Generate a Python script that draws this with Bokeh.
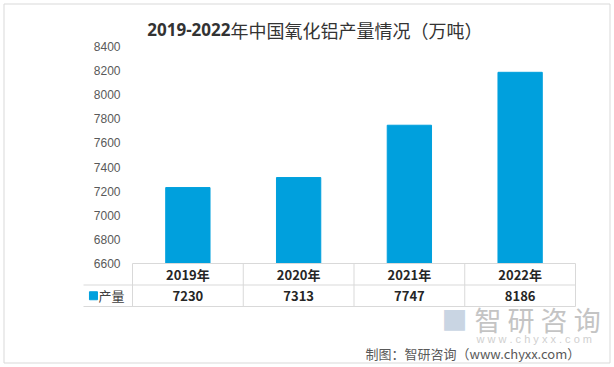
from bokeh.plotting import figure
from bokeh.models import Range1d, FixedTicker, Label
from bokeh.core.properties import value
from bokeh.embed import file_html
from bokeh.resources import INLINE

# ---- data ----
years = ["2019年", "2020年", "2021年", "2022年"]
output = [7230, 7313, 7747, 8186]
series_name = "产量"
y_ticks = [6600, 6800, 7000, 7200, 7400, 7600, 7800, 8000, 8200, 8400]
title_num = "2019-2022"
title_cn = "年中国氧化铝产量情况（万吨）"
source_text = "制图：智研咨询（www.chyxx.com）"

BLUE = "#00A0DD"
GRID = "#D9D9D9"
W, H = 614, 367
COL0 = 132        # left edge of first category column (px)
TOP_TICK = 46     # y pixel of top tick
TBL_BOTTOM = 306  # y pixel of table bottom
ROW_H = 21.5
col_px = 110.75
px_per_unit = 217 / 1800

p = figure(width=W, height=H, output_backend="svg", toolbar_location=None,
           min_border_left=0, min_border_right=0, min_border_top=0, min_border_bottom=0,
           x_range=Range1d(-COL0 / col_px, (W - COL0) / col_px),
           y_range=Range1d(y_ticks[-1] - (H - TOP_TICK) / px_per_unit,
                           y_ticks[-1] + TOP_TICK / px_per_unit))
p.extra_y_ranges = {"tbl": Range1d(-(H - TBL_BOTTOM) / ROW_H, TBL_BOTTOM / ROW_H),
                    "px": Range1d(H, 0)}
p.extra_x_ranges = {"px": Range1d(0, W)}
p.outline_line_color = None
p.xgrid.visible = False
p.ygrid.visible = False
p.xaxis.visible = False

ya = p.yaxis[0]
ya.ticker = FixedTicker(ticks=y_ticks)
ya.fixed_location = 0
ya.axis_line_color = None
ya.major_tick_line_color = None
ya.minor_tick_line_color = None
ya.major_tick_out = 0
ya.major_label_standoff = 12
ya.major_label_text_font = "Liberation Sans"
ya.major_label_text_font_size = "12px"
ya.major_label_text_color = "#595959"

# outer border
p.quad(left=[3.5], right=[609.5], top=[3.5], bottom=[362.5], fill_color=None,
       line_color="#D9D9D9", line_width=1, x_range_name="px", y_range_name="px")

xs = [i + 0.5 for i in range(len(years))]
p.vbar(x=xs, top=output, bottom=y_ticks[0], width=0.4, color=BLUE)

# table grid
n = len(years)
left = -(COL0 - 83) / col_px
p.segment(x0=list(range(n + 1)), x1=list(range(n + 1)), y0=[0] * (n + 1), y1=[2] * (n + 1),
          line_color=GRID, line_width=1, y_range_name="tbl")
p.segment(x0=[0, left, left], x1=[n, n, n], y0=[2, 1, 0], y1=[2, 1, 0],
          line_color=GRID, line_width=1, y_range_name="tbl")

p.text(x=xs, y=[1.5] * n, text=years, y_range_name="tbl",
       text_font=value("Noto Sans CJK SC"), text_font_style="bold", text_font_size="13px",
       text_align="center", text_baseline="middle", text_color="#262626")
p.text(x=xs, y=[0.5] * n, text=[str(v) for v in output], y_range_name="tbl",
       text_font=value("Noto Sans CJK SC"), text_font_style="bold", text_font_size="13px",
       text_align="center", text_baseline="middle", text_color="#262626")
p.scatter(x=[left + 0.09], y=[0.5], marker="square", size=8, color=BLUE, y_range_name="tbl")
p.text(x=[left + 0.135], y=[0.5], text=[series_name], y_range_name="tbl",
       text_font=value("Noto Sans CJK SC"), text_font_size="13px",
       text_align="left", text_baseline="middle", text_color="#404040")


def lab(text, fx, fy, **kw):
    p.add_layout(Label(x=fx, y=fy, x_units="data", y_units="data",
                       x_range_name="px", y_range_name="px",
                       text=text, text_baseline="middle", **kw))


lab(title_num, 230, 29, text_align="right", text_font="Open Sans", text_font_style="bold",
    text_font_size="17px", text_color="#333333")
lab(title_cn, 230, 29, text_align="left", text_font="Noto Sans CJK SC",
    text_font_size="18px", text_color="#333333")
lab("智 研 咨 询", 474, 319, text_align="left", text_font="Noto Sans CJK SC",
    text_font_size="27px", text_color="#C4C4C4")
lab("■", 441, 318, text_align="left", text_font="Noto Sans CJK SC",
    text_font_size="26px", text_color="#C9D5E3")
lab("w w w . c h y x x . c o m", 476, 338, text_align="left", text_font="Liberation Sans",
    text_font_size="11px", text_color="#D0D0D0")
lab(source_text, 365, 353, text_align="left", text_font="Noto Sans CJK SC",
    text_font_size="13px", text_color="#595959")

open("out.html", "w").write(file_html(p, INLINE))
